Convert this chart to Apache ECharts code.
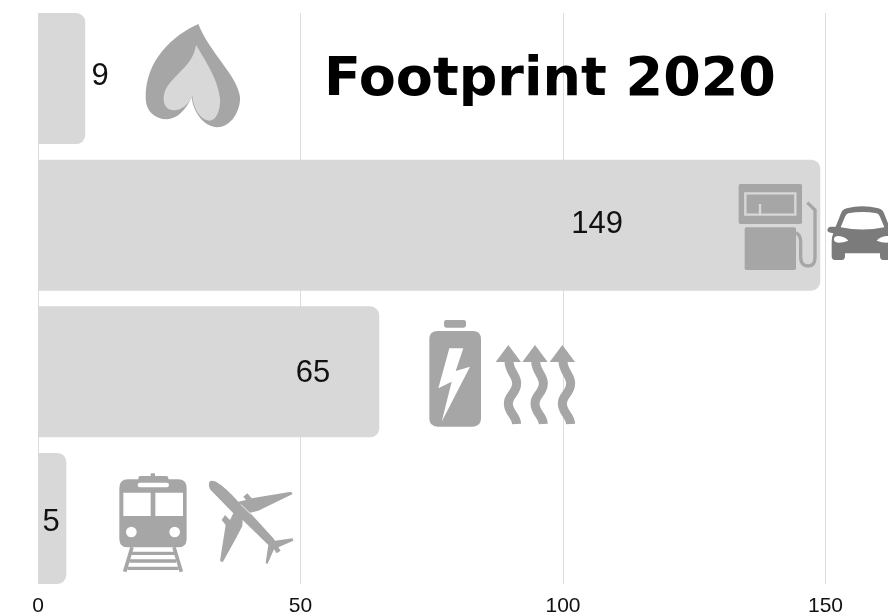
<!DOCTYPE html>
<html><head><meta charset="utf-8">
<style>html,body{margin:0;padding:0;background:#fff}#c{width:888px;height:614px}</style>
<script src="https://cdn.jsdelivr.net/npm/echarts@6/dist/echarts.min.js"></script>
</head><body><div id="c"></div>
<script>
const categories = ['Heating','Fuel and car','Electricity and heat','Train and plane'];
const values = [9,149,65,5.4];
const tickLabels = [0,50,100,150];
const labelShift = [[38.4,-2],[168,-1],[104.4,2],[-1,4]];
const GREY='#a6a6a6', BAR='#d8d8d8', WHITE='#fff', CAR='#7b7b7b';

// icon outlines in a local 3x grid; [origin x, origin y, fill, stroke, stroke width, path]
const arrow = dx => `M${267+dx},138 C${267+dx},170 ${290+dx},180 ${290+dx},205 C${290+dx},235 ${265+dx},240 ${265+dx},265 C${265+dx},295 ${288+dx},300 ${290+dx},327`;
const head = dx => `M${265+dx},90 L${303+dx},141 L${227+dx},141 Z`;
const rr=(x,y,w,h,r)=>`M${x+r},${y} L${x+w-r},${y} Q${x+w},${y} ${x+w},${y+r} L${x+w},${y+h-r} Q${x+w},${y+h} ${x+w-r},${y+h} L${x+r},${y+h} Q${x},${y+h} ${x},${y+h-r} L${x},${y+r} Q${x},${y} ${x+r},${y} Z`;
const circ=(x,y,r)=>`M${x-r},${y} A${r},${r} 0 1 1 ${x+r},${y} A${r},${r} 0 1 1 ${x-r},${y} Z`;
const icons = [
 // flame
 [130,10,GREY,null,0,'M205,42 C130,75 45,150 47,265 C48,305 75,328 110,328 C140,328 168,300 185,262 C190,310 225,352 262,352 C305,352 332,300 330,262 C325,200 240,130 205,42 Z'],
 [130,10,BAR,null,0,'M198,105 C190,160 150,180 115,225 C95,250 95,295 125,300 C150,305 175,285 187,258 C190,295 212,332 240,332 C262,330 272,295 270,265 C265,210 225,150 198,105 Z'],
 // pump
 [730,170,GREY,null,0,rr(26,42,190,120,5)],
 [730,170,null,BAR,7,'M46,70 L196,70 L196,134 L46,134 Z M90,102 L90,134'],
 [730,170,GREY,null,0,rr(44,172,154,128,5)],
 [730,170,null,GREY,10,'M198,188 Q212,195 212,215 L212,262 Q212,288 235,288 Q255,288 255,262 L255,120 L232,98'],
 // car
 [730,170,CAR,null,0,'M350,115 Q397,102 445,115 Q458,118 462,130 L478,170 L495,170 Q503,172 503,180 Q503,188 485,190 Q490,200 490,215 L490,258 Q490,270 480,270 L460,270 Q450,270 450,258 L450,250 L345,250 L345,258 Q345,270 335,270 L315,270 Q305,270 305,258 L305,215 Q305,200 310,190 Q292,188 292,180 Q292,172 300,170 L317,170 L333,130 Q337,118 350,115 Z'],
 [730,170,WHITE,null,0,'M355,130 Q397,122 440,130 Q447,132 450,140 L463,172 Q397,185 332,172 L345,140 Q348,132 355,130 Z'],
 [730,170,WHITE,null,0,'M312,208 Q312,198 325,198 Q345,200 355,212 Q340,218 325,218 Q312,218 312,208 Z'],
 [730,170,WHITE,null,0,'M483,208 Q483,198 470,198 Q450,200 440,212 Q455,218 470,218 Q483,218 483,208 Z'],
 // battery
 [420,315,GREY,null,0,rr(72,15,66,23,7)],
 [420,315,GREY,null,0,rr(28,48,155,287,25)],
 [420,315,WHITE,null,0,'M88,100 L130,100 L107,168 L150,155 L65,320 L95,200 L55,220 Z'],
 // heat arrows
 [420,315,null,GREY,27,arrow(0)],[420,315,GREY,null,0,head(0)],
 [420,315,null,GREY,27,arrow(80)],[420,315,GREY,null,0,head(80)],
 [420,315,null,GREY,27,arrow(162)],[420,315,GREY,null,0,head(162)],
 // train
 [110,470,GREY,null,0,rr(122,10,13,14,2)],
 [110,470,GREY,null,0,rr(85,18,90,16,6)],
 [110,470,GREY,null,0,rr(28,28,202,204,26)],
 [110,470,WHITE,null,0,rr(40,68,82,70,1)],
 [110,470,WHITE,null,0,rr(136,68,83,70,1)],
 [110,470,WHITE,null,0,rr(83,38,94,14,7)],
 [110,470,WHITE,null,0,circ(64,186,16)],
 [110,470,WHITE,null,0,circ(194,186,16)],
 [110,470,null,GREY,11,'M66,232 L44,305 M192,232 L214,305'],
 [110,470,GREY,null,0,'M62,245 L195,245 L195,255 L62,255 Z M58,268 L198,268 L198,278 L58,278 Z M52,290 L206,290 L206,300 L52,300 Z'],
 // plane
 [110,470,GREY,null,0,'M297,38 Q300,28 318,35 Q345,50 385,95 L408,90 L400,80 L412,70 L425,85 L543,65 L548,72 L445,122 L420,128 L490,205 L495,212 L548,205 L550,212 L505,232 L512,242 L500,250 L492,238 L472,283 L467,278 L475,225 L398,150 L397,168 L378,205 L338,277 L330,272 L347,165 L335,150 L345,135 L360,150 L370,130 L300,58 Q295,48 297,38 Z'],
 [110,470,null,WHITE,2.5,'M392,103 L422,132']
];

const chart = echarts.init(document.getElementById('c'));
chart.setOption({
  animation:false,
  backgroundColor:'#fff',
  title:{text:'Footprint 2020',left:324,top:54,padding:0,
    textStyle:{fontFamily:'DejaVu Sans',fontWeight:'bold',fontSize:54,color:'#000'}},
  grid:[
    {left:38,right:62.5,top:13,bottom:30,outerBoundsMode:'none'},
    {left:38,right:62.5,top:5.3,bottom:22.3,outerBoundsMode:'none'}
  ],
  xAxis:[
    {gridIndex:0,type:'value',min:0,max:150,interval:50,
     axisLine:{show:false},axisTick:{show:false},
     splitLine:{show:true,lineStyle:{color:'#dcdcdc',width:1}},
     axisLabel:{color:'#111',fontFamily:'Liberation Sans',fontSize:21,margin:12,
       formatter:v=>tickLabels.includes(v)?String(v):''}},
    {gridIndex:1,type:'value',min:0,max:150,show:false}
  ],
  yAxis:[
    {gridIndex:0,type:'category',inverse:true,data:categories,show:false},
    {gridIndex:1,type:'category',inverse:true,data:categories,show:false}
  ],
  series:[
    {type:'bar',xAxisIndex:1,yAxisIndex:1,barWidth:131,z:3,
     itemStyle:{color:BAR,borderRadius:[0,9,9,0]},
     data:values.map((v,i)=>({value:v,label:{show:true,position:'inside',offset:labelShift[i],
        formatter:()=>String(Math.round(v)),color:'#111',fontFamily:'Liberation Sans',fontSize:31}}))},
    {type:'custom',coordinateSystem:'none',silent:true,z:5,clip:false,data:[0],
     renderItem:()=>({type:'group',children:icons.map(([ox,oy,fill,stroke,sw,d])=>({
        type:'path',x:ox,y:oy,scaleX:1/3,scaleY:1/3,
        shape:{pathData:d},
        style:{fill:fill||'none',stroke:stroke||'none',lineWidth:sw}
     }))})}
  ]
});
</script></body></html>
